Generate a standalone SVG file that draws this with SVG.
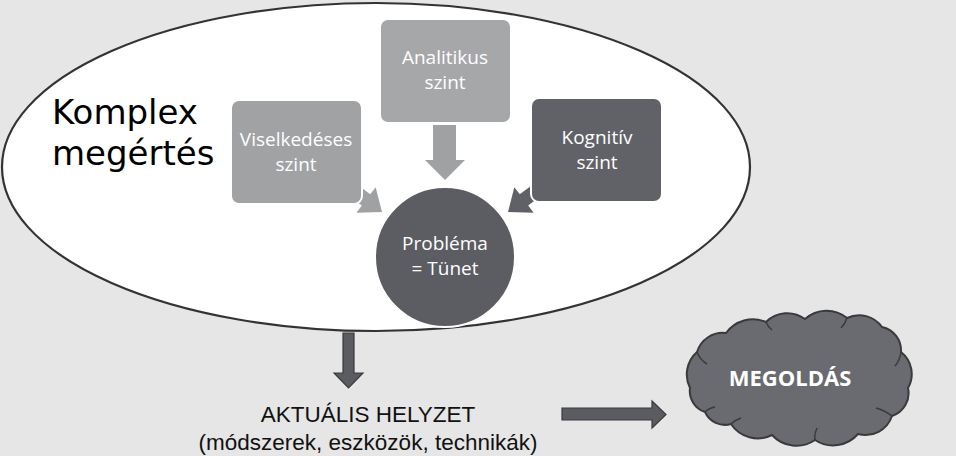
<svg xmlns="http://www.w3.org/2000/svg" width="956" height="456" viewBox="0 0 956 456">
<style>
.box{stroke:#fff;stroke-width:2}
.bt{font-family:"Open Sans","Noto Sans",sans-serif;font-size:19px;fill:#fff;text-anchor:middle}
.big{font-family:"DejaVu Sans",sans-serif;font-size:34px;fill:#000}
.lbl{font-family:"Liberation Sans",Arial,sans-serif;font-size:22.5px;fill:#111;text-anchor:middle}
.dark{fill:#5b5c61;stroke:#3a3a3c;stroke-width:1.2}
.inner{fill:none;stroke:#3a3a3c;stroke-width:1.5}
</style>
<rect width="956" height="456" fill="#e5e6e5"/>
<g id="ellipse">
<ellipse cx="376" cy="167" rx="374" ry="164" fill="#fff" stroke="#333" stroke-width="2.2"/>
<text class="big" x="52" y="124">Komplex</text>
<text class="big" x="52" y="165">megértés</text>
</g>
<g id="connectors">
<polygon points="433,125 456,125 456,160 465,160 445,180 425,160 433,160" fill="#a0a1a3"/>
<g transform="translate(382,212) rotate(37)"><polygon points="0,0 -20,-16 -20,-7 -42,-7 -42,7 -20,7 -20,16" fill="#a0a1a3"/></g>
<g transform="translate(508,212) rotate(143)"><polygon points="0,0 -20,-16 -20,-7 -42,-7 -42,7 -20,7 -20,16" fill="#606167"/></g>
<polygon class="dark" points="343,333 354,333 354,373 363,373 348.5,388 334,373 343,373"/>
<polygon class="dark" points="562,408 652,408 652,401 666,414.5 652,428 652,420 562,420"/>
</g>
<g id="viselkedeses">
<rect class="box" x="231" y="100" width="131" height="104" rx="8" fill="#a1a2a4"/>
<text class="bt" x="296" y="146">Viselkedéses</text>
<text class="bt" x="296" y="171">szint</text>
</g>
<g id="analitikus">
<rect class="box" x="380" y="19" width="131" height="104" rx="8" fill="#a6a7a9"/>
<text class="bt" x="445" y="64">Analitikus</text>
<text class="bt" x="445" y="89">szint</text>
</g>
<g id="kognitiv">
<rect class="box" x="531" y="98" width="131" height="104" rx="8" fill="#616268"/>
<text class="bt" x="597" y="144">Kognitív</text>
<text class="bt" x="597" y="169">szint</text>
</g>
<g id="problema">
<circle cx="445" cy="257" r="70" fill="#5c5d62" stroke="#fff" stroke-width="2"/>
<text class="bt" x="445" y="250">Probléma</text>
<text class="bt" x="445" y="275">= Tünet</text>
</g>
<g id="helyzet">
<text class="lbl" x="368" y="422">AKTUÁLIS HELYZET</text>
<text class="lbl" x="368" y="450">(módszerek, eszközök, technikák)</text>
</g>
<g id="megoldas">
<path d="M690,388 A30,30 0 0 1 697,352 A27,27 0 0 1 726,333 A33,33 0 0 1 766,322 A30,30 0 0 1 805,319 A32,32 0 0 1 847,318 A28,28 0 0 1 882,327 A24,24 0 0 1 901,352 A28,28 0 0 1 908,388 A24,24 0 0 1 892,416 A28,28 0 0 1 858,434 A33,33 0 0 1 815,440 A33,33 0 0 1 772,435 A32,32 0 0 1 731,424 A22,22 0 0 1 705,412 A22,22 0 0 1 690,388 Z" fill="#6a6b70" stroke="#3a3a3c" stroke-width="2"/>
<path class="inner" d="M697,352 q3,8 10,12 M766,322 q2,5 6,8 M847,318 q-2,6 -6,10 M901,352 q-1,8 -6,14 M892,416 q-8,-6 -16,-8 M815,440 q-1,-6 2,-12 M731,424 q4,-4 10,-6 M705,412 q4,-4 10,-5"/>
<text x="790" y="386" font-family="'Open Sans','Noto Sans',sans-serif" font-size="22" font-weight="bold" fill="#fff" text-anchor="middle">MEGOLDÁS</text>
</g>
</svg>
